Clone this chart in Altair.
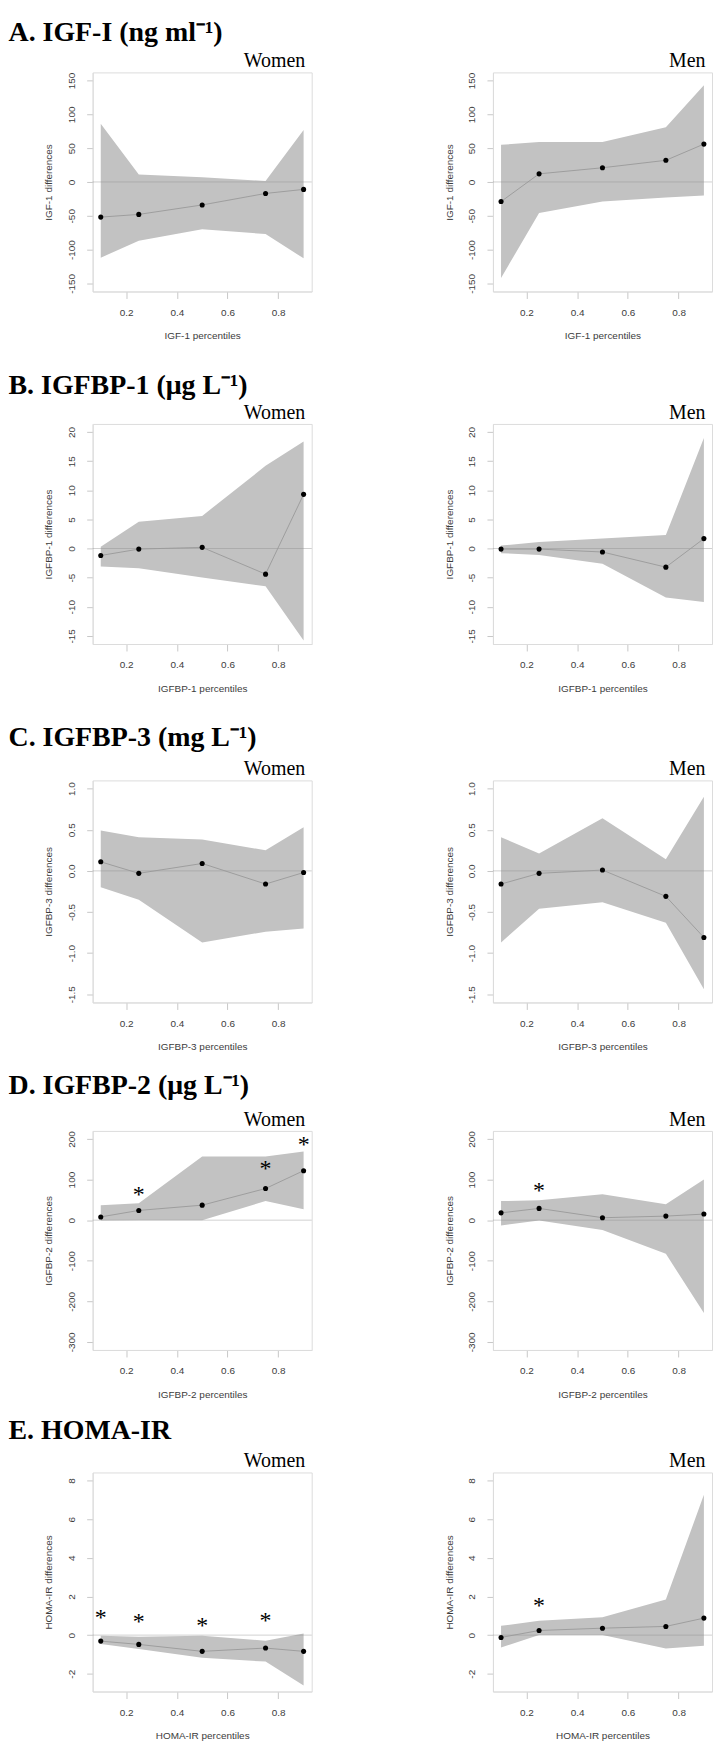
import altair as alt
import pandas as pd

x_pct = [0.1, 0.25, 0.5, 0.75, 0.9]

# A. IGF-I
igf1_w_est = [-52, -48, -34, -17, -11]
igf1_w_lo = [-112, -87, -70, -77, -113]
igf1_w_hi = [86, 11, 7, 1.5, 77]
igf1_m_est = [-29, 12, 21, 32, 56]
igf1_m_lo = [-142, -46, -29, -23, -20]
igf1_m_hi = [55, 59, 59, 81, 143]

# B. IGFBP-1
bp1_w_est = [-1.2, -0.1, 0.2, -4.4, 9.3]
bp1_w_lo = [-3.1, -3.4, -5.0, -6.5, -15.8]
bp1_w_hi = [0.3, 4.6, 5.6, 14.2, 18.4]
bp1_m_est = [-0.1, -0.1, -0.6, -3.2, 1.7]
bp1_m_lo = [-0.8, -1.1, -2.6, -8.4, -9.2]
bp1_m_hi = [0.5, 1.1, 1.7, 2.3, 19.0]

# C. IGFBP-3
bp3_w_est = [0.11, -0.03, 0.09, -0.16, -0.02]
bp3_w_lo = [-0.20, -0.35, -0.87, -0.74, -0.70]
bp3_w_hi = [0.49, 0.41, 0.38, 0.25, 0.53]
bp3_m_est = [-0.16, -0.03, 0.01, -0.31, -0.81]
bp3_m_lo = [-0.87, -0.46, -0.38, -0.63, -1.44]
bp3_m_hi = [0.41, 0.21, 0.64, 0.14, 0.90]

# D. IGFBP-2
bp2_w_est = [8, 24, 37, 78, 122]
bp2_w_lo = [-1, 0, 0, 47, 27]
bp2_w_hi = [37, 42, 157, 157, 169]
bp2_m_est = [18, 29, 6, 10, 15]
bp2_m_lo = [-13, -1, -24, -83, -229]
bp2_m_hi = [47, 49, 64, 39, 100]

# E. HOMA-IR
homa_w_est = [-0.31, -0.48, -0.84, -0.67, -0.84]
homa_w_lo = [-0.46, -0.72, -1.17, -1.37, -2.61]
homa_w_hi = [-0.03, -0.09, -0.03, -0.29, 0.09]
homa_m_est = [-0.12, 0.24, 0.36, 0.45, 0.88]
homa_m_lo = [-0.64, 0.0, 0.0, -0.69, -0.55]
homa_m_hi = [0.48, 0.74, 0.93, 1.85, 7.26]

# significance markers (*)
bp2_w_star_x = [0.25, 0.75, 0.9]
bp2_w_star_y = [73, 136, 194]
bp2_m_star_x = [0.25]
bp2_m_star_y = [82]
homa_w_star_x = [0.1, 0.25, 0.5, 0.75]
homa_w_star_y = [1.08, 0.88, 0.69, 0.96]
homa_m_star_x = [0.25]
homa_m_star_y = [1.72]

section_titles = [
    "A. IGF-I (ng ml\u207b\u00b9)",
    "B. IGFBP-1 (\u03bcg L\u207b\u00b9)",
    "C. IGFBP-3 (mg L\u207b\u00b9)",
    "D. IGFBP-2 (\u03bcg L\u207b\u00b9)",
    "E. HOMA-IR",
]
y_titles = ["IGF-1 differences", "IGFBP-1 differences", "IGFBP-3 differences",
            "IGFBP-2 differences", "HOMA-IR differences"]
x_titles = ["IGF-1 percentiles", "IGFBP-1 percentiles", "IGFBP-3 percentiles",
            "IGFBP-2 percentiles", "HOMA-IR percentiles"]
y_domains = [[-162, 162], [-16.4, 21.4], [-1.6, 1.1], [-320, 220], [-2.92, 8.42]]
y_ticks = [[-150, -100, -50, 0, 50, 100, 150], [-15, -10, -5, 0, 5, 10, 15, 20],
           [-1.5, -1.0, -0.5, 0.0, 0.5, 1.0], [-300, -200, -100, 0, 100, 200],
           [-2, 0, 2, 4, 6, 8]]
y_formats = ["d", "d", ".1f", "d", "d"]
x_ticks = [0.2, 0.4, 0.6, 0.8]

# layout per row
panel_heights = [220, 221, 223, 220, 220]
section_offset = [4, 3, 7, 9, 6]
row_gaps = [30, 30, 20, 17]

GREY_BAND = "#c2c2c2"
SERIF = "Liberation Serif"
SANS = "Liberation Sans"


def panel(est, lo, hi, sx, sy, row, sex):
    df = pd.DataFrame({"p": x_pct, "est": est, "lo": lo, "hi": hi})
    xs = alt.Scale(domain=[0.068, 0.932], nice=False, zero=False)
    ys = alt.Scale(domain=y_domains[row], nice=False, zero=False)
    xax = alt.Axis(values=x_ticks, format=".1f", title=x_titles[row], labelFlush=False)
    yax = alt.Axis(values=y_ticks[row], format=y_formats[row], title=y_titles[row],
                   labelExpr="replace(datum.label, '\u2212', '-')", labelFlush=False)
    X = alt.X("p:Q", scale=xs, axis=xax)
    band = alt.Chart(df).mark_area(color=GREY_BAND, opacity=1).encode(
        x=X, y=alt.Y("lo:Q", scale=ys, axis=yax), y2="hi:Q")
    zero = alt.Chart(pd.DataFrame({"z": [0]})).mark_rule(
        color="#8a8a8a", strokeWidth=1, opacity=0.4).encode(
        y=alt.Y("z:Q", scale=ys, axis=yax))
    line = alt.Chart(df).mark_line(color="#999999", strokeWidth=0.9).encode(
        x=X, y=alt.Y("est:Q", scale=ys, axis=yax))
    pts = alt.Chart(df).mark_circle(color="black", size=26, opacity=1).encode(
        x=X, y=alt.Y("est:Q", scale=ys, axis=yax))
    layers = [band, zero, line, pts]
    if sx:
        sdf = pd.DataFrame({"p": sx, "s": sy})
        stars = alt.Chart(sdf).mark_text(
            text="*", font=SERIF, fontSize=24, baseline="middle", dy=4,
            color="black").encode(
            x=X, y=alt.Y("s:Q", scale=ys, axis=yax))
        layers.append(stars)
    return alt.layer(*layers).properties(
        width=220, height=panel_heights[row],
        title=alt.TitleParams(sex, anchor="end", font=SERIF, fontSize=20,
                              fontWeight="normal", color="black", offset=1, dx=-7))


data_w = [(igf1_w_est, igf1_w_lo, igf1_w_hi, None, None),
          (bp1_w_est, bp1_w_lo, bp1_w_hi, None, None),
          (bp3_w_est, bp3_w_lo, bp3_w_hi, None, None),
          (bp2_w_est, bp2_w_lo, bp2_w_hi, bp2_w_star_x, bp2_w_star_y),
          (homa_w_est, homa_w_lo, homa_w_hi, homa_w_star_x, homa_w_star_y)]
data_m = [(igf1_m_est, igf1_m_lo, igf1_m_hi, None, None),
          (bp1_m_est, bp1_m_lo, bp1_m_hi, None, None),
          (bp3_m_est, bp3_m_lo, bp3_m_hi, None, None),
          (bp2_m_est, bp2_m_lo, bp2_m_hi, bp2_m_star_x, bp2_m_star_y),
          (homa_m_est, homa_m_lo, homa_m_hi, homa_m_star_x, homa_m_star_y)]

rows = []
for r in range(5):
    w = panel(*data_w[r], r, "Women")
    m = panel(*data_m[r], r, "Men")
    row = alt.hconcat(w, m, spacing=131).properties(
        title=alt.TitleParams(section_titles[r], anchor="start", font=SERIF, fontSize=28,
                              fontWeight="bold", color="black",
                              offset=section_offset[r], dx=-35))
    rows.append(row)

# nest so that each gap between rows can differ
stack = rows[4]
for r in range(3, -1, -1):
    stack = alt.vconcat(rows[r], stack, spacing=row_gaps[r])

chart = stack.properties(
    padding={"left": 0, "top": 7, "right": 0, "bottom": 0}
).configure_view(stroke="#dcdcdc", strokeWidth=1).configure_axis(
    labelFont=SANS, labelFontSize=10, labelColor="#3c3c3c",
    titleFont=SANS, titleFontSize=10, titleFontWeight="normal", titleColor="#3c3c3c",
    tickColor="#c8c8c8", domainColor="#dcdcdc", grid=False,
).configure_axisX(tickSize=7, labelPadding=9, titlePadding=13.5).configure_axisY(
    tickSize=6, labelAngle=270, labelAlign="center", labelBaseline="bottom",
    labelPadding=10.5, titlePadding=12.5)

chart.save("out.html", embed_options={"renderer": "svg", "actions": False})
